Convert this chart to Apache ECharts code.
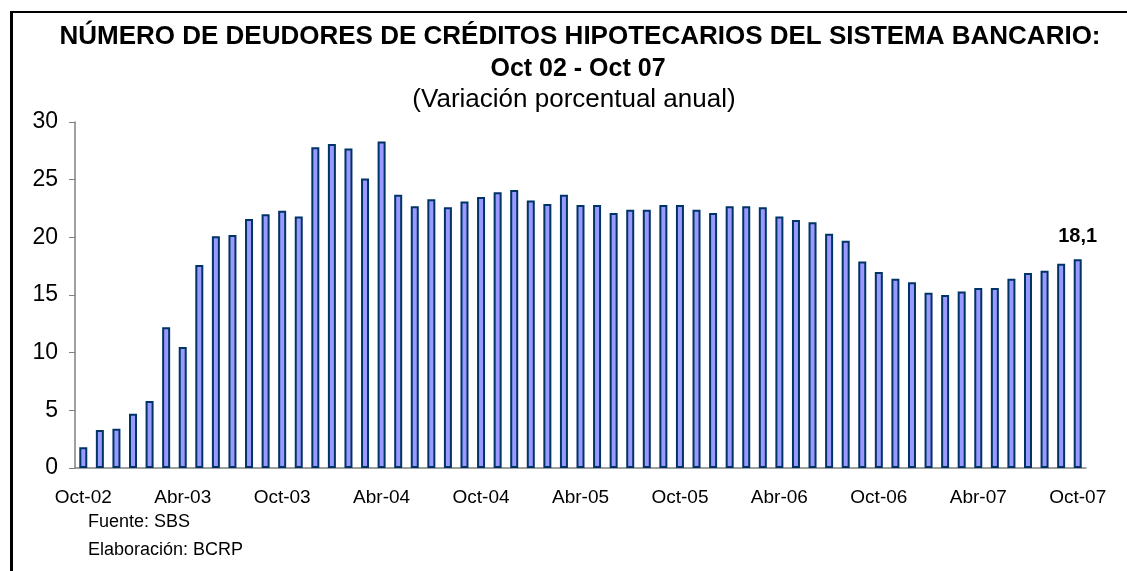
<!DOCTYPE html>
<html>
<head>
	<meta charset="utf-8">
	<title>Deudores hipotecarios</title>
	<script src="https://cdn.jsdelivr.net/npm/echarts@6/dist/echarts.min.js"></script>
	<style type="text/css">
		body { margin: 0; background: #fff; }
		#chart_box { width: 1127px; height: 571px; }
	</style>
</head>
<body>
	<div id="chart_box"></div>
<script type="text/javascript">
	// meses Oct-02 ... Oct-07
	var meses = ['Oct-02','Nov-02','Dic-02','Ene-03','Feb-03','Mar-03','Abr-03','May-03','Jun-03','Jul-03','Ago-03','Sep-03',
		'Oct-03','Nov-03','Dic-03','Ene-04','Feb-04','Mar-04','Abr-04','May-04','Jun-04','Jul-04','Ago-04','Sep-04',
		'Oct-04','Nov-04','Dic-04','Ene-05','Feb-05','Mar-05','Abr-05','May-05','Jun-05','Jul-05','Ago-05','Sep-05',
		'Oct-05','Nov-05','Dic-05','Ene-06','Feb-06','Mar-06','Abr-06','May-06','Jun-06','Jul-06','Ago-06','Sep-06',
		'Oct-06','Nov-06','Dic-06','Ene-07','Feb-07','Mar-07','Abr-07','May-07','Jun-07','Jul-07','Ago-07','Sep-07',
		'Oct-07'];

	// variacion porcentual anual
	var variacion = [1.8, 3.3, 3.4, 4.7, 5.8, 12.2, 10.5, 17.6, 20.1, 20.2, 21.6, 22.0,
		22.3, 21.8, 27.8, 28.1, 27.7, 25.1, 28.3, 23.7, 22.7, 23.3, 22.6, 23.1,
		23.5, 23.9, 24.1, 23.2, 22.9, 23.7, 22.8, 22.8, 22.1, 22.4, 22.4, 22.8,
		22.8, 22.4, 22.1, 22.7, 22.7, 22.6, 21.8, 21.5, 21.3, 20.3, 19.7, 17.9,
		17.0, 16.4, 16.1, 15.2, 15.0, 15.3, 15.6, 15.6, 16.4, 16.9, 17.1, 17.7,
		18.1];

	var ticksY = [0, 5, 10, 15, 20, 25, 30];

	var font = 'Arial, "Liberation Sans", sans-serif';

	var serie = variacion.map(function (v, i) {
		if (i == variacion.length - 1) {
			return {
				value: v,
				label: {
					show: true,
					position: 'top',
					distance: 13,
					fontFamily: font,
					fontWeight: 'bold',
					fontSize: 20,
					color: '#000',
					formatter: function (p) { return String(p.value).replace('.', ','); }
				}
			};
		}
		return v;
	});

	var chart = echarts.init(document.getElementById('chart_box'));

	var option = {
		animation: false,
		backgroundColor: '#fff',
		textStyle: { fontFamily: font },
		graphic: [
			// marco
			{ type: 'line', shape: { x1: 11.5, y1: 12, x2: 11.5, y2: 571 }, style: { stroke: '#000', lineWidth: 3 } },
			{ type: 'line', shape: { x1: 10, y1: 12, x2: 1127, y2: 12 }, style: { stroke: '#000', lineWidth: 2 } },
			{ type: 'text', x: 580, y: 37, style: { text: 'NÚMERO DE DEUDORES DE CRÉDITOS HIPOTECARIOS DEL SISTEMA BANCARIO:',
				font: 'bold 26px ' + font, fill: '#000', textAlign: 'center', textVerticalAlign: 'middle' } },
			{ type: 'text', x: 578, y: 69, style: { text: 'Oct 02 - Oct 07',
				font: 'bold 25px ' + font, fill: '#000', textAlign: 'center', textVerticalAlign: 'middle' } },
			{ type: 'text', x: 574, y: 100, style: { text: '(Variación porcentual anual)',
				font: '26px ' + font, fill: '#000', textAlign: 'center', textVerticalAlign: 'middle' } },
			{ type: 'text', x: 88, y: 522, style: { text: 'Fuente: SBS',
				font: '18px ' + font, fill: '#000', textAlign: 'left', textVerticalAlign: 'middle' } },
			{ type: 'text', x: 88, y: 550, style: { text: 'Elaboración: BCRP',
				font: '18px ' + font, fill: '#000', textAlign: 'left', textVerticalAlign: 'middle' } }
		],
		grid: { left: 75, right: 41, top: 122, bottom: 103, containLabel: false },
		xAxis: {
			type: 'category',
			data: meses,
			boundaryGap: true,
			axisLine: { lineStyle: { color: '#808080', width: 1.5 } },
			axisTick: { interval: 5, length: 6, lineStyle: { color: '#000' } },
			axisLabel: { interval: 5, margin: 20, fontSize: 19, color: '#000', fontFamily: font }
		},
		yAxis: {
			type: 'value',
			min: ticksY[0],
			max: ticksY[ticksY.length - 1],
			interval: 5,
			axisLine: { show: true, lineStyle: { color: '#808080', width: 1.5 } },
			axisTick: { show: true, inside: false, length: 6, lineStyle: { color: '#808080' } },
			axisLabel: { margin: 17, fontSize: 23, color: '#000', fontFamily: font },
			splitLine: { show: false }
		},
		series: [{
			type: 'bar',
			barWidth: 8,
			itemStyle: { color: '#9999ff', borderColor: '#003366', borderWidth: 2 },
			data: serie
		}]
	};

	chart.setOption(option);
</script>
</body>
</html>
